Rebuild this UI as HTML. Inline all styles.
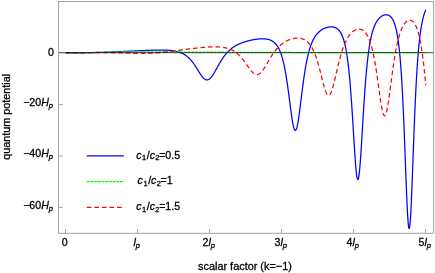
<!DOCTYPE html>
<html><head><meta charset="utf-8"><style>
html,body{margin:0;padding:0;background:#fff;overflow:hidden;}
#w{width:435px;height:273px;position:relative;will-change:transform;}
svg{display:block;}
text{font-family:"Liberation Sans",sans-serif;font-size:10.6px;fill:#000;stroke:#000;stroke-width:0.3px;}
.i{font-style:italic;}
.s{font-size:7.5px;font-style:italic;}
.n{font-size:7.5px;}
</style></head><body><div id="w">
<svg width="435" height="273" viewBox="0 0 435 273">
<g fill="none" stroke-linejoin="round" stroke-width="1.25">
<path d="M65.65 52.93 L66.37 52.93 L66.63 52.93 L66.88 52.93 L67.14 52.93 L67.40 52.93 L67.65 52.93 L67.91 52.93 L68.17 52.93 L68.43 52.93 L68.68 52.93 L68.94 52.92 L69.20 52.92 L69.45 52.92 L69.71 52.92 L69.97 52.92 L70.22 52.92 L70.48 52.92 L70.74 52.92 L70.99 52.92 L71.25 52.91 L71.51 52.91 L71.77 52.91 L72.02 52.91 L72.28 52.91 L72.54 52.91 L72.79 52.90 L73.05 52.90 L73.31 52.90 L73.56 52.90 L73.82 52.90 L74.08 52.89 L74.34 52.89 L74.59 52.89 L74.85 52.89 L75.11 52.89 L75.36 52.88 L75.62 52.88 L75.88 52.88 L76.13 52.88 L76.39 52.87 L76.65 52.87 L76.90 52.87 L77.16 52.86 L77.42 52.86 L77.68 52.86 L77.93 52.86 L78.19 52.85 L78.45 52.85 L78.70 52.85 L78.96 52.84 L79.22 52.84 L79.47 52.84 L79.73 52.83 L79.99 52.83 L80.24 52.83 L80.50 52.82 L80.76 52.82 L81.02 52.81 L81.27 52.81 L81.53 52.81 L81.79 52.80 L82.04 52.80 L82.30 52.79 L82.56 52.79 L82.81 52.79 L83.07 52.78 L83.33 52.78 L83.58 52.77 L83.84 52.77 L84.10 52.76 L84.36 52.76 L84.61 52.75 L84.87 52.75 L85.13 52.74 L85.38 52.74 L85.64 52.74 L85.90 52.73 L86.15 52.73 L86.41 52.72 L86.67 52.72 L86.92 52.71 L87.18 52.70 L87.44 52.70 L87.70 52.69 L87.95 52.69 L88.21 52.68 L88.47 52.68 L88.72 52.67 L88.98 52.67 L89.24 52.66 L89.49 52.66 L89.75 52.65 L90.01 52.64 L90.27 52.64 L90.52 52.63 L90.78 52.63 L91.04 52.62 L91.29 52.61 L91.55 52.61 L91.81 52.60 L92.06 52.59 L92.32 52.59 L92.58 52.58 L92.83 52.58 L93.09 52.57 L93.35 52.56 L93.61 52.56 L93.86 52.55 L94.12 52.54 L94.38 52.54 L94.63 52.53 L94.89 52.52 L95.15 52.52 L95.40 52.51 L95.66 52.50 L95.92 52.49 L96.17 52.49 L96.43 52.48 L96.69 52.47 L96.95 52.47 L97.20 52.46 L97.46 52.45 L97.72 52.44 L97.97 52.44 L98.23 52.43 L98.49 52.42 L98.74 52.41 L99.00 52.41 L99.26 52.40 L99.51 52.39 L99.77 52.38 L100.03 52.38 L100.29 52.37 L100.54 52.36 L100.80 52.35 L101.06 52.34 L101.31 52.34 L101.57 52.33 L101.83 52.32 L102.08 52.31 L102.34 52.30 L102.60 52.29 L102.85 52.29 L103.11 52.28 L103.37 52.27 L103.63 52.26 L103.88 52.25 L104.14 52.24 L104.40 52.23 L104.65 52.23 L104.91 52.22 L105.17 52.21 L105.42 52.20 L105.68 52.19 L105.94 52.18 L106.20 52.17 L106.45 52.16 L106.71 52.16 L106.97 52.15 L107.22 52.14 L107.48 52.13 L107.74 52.12 L107.99 52.11 L108.25 52.10 L108.51 52.09 L108.76 52.08 L109.02 52.07 L109.28 52.06 L109.54 52.05 L109.79 52.04 L110.05 52.03 L110.31 52.02 L110.56 52.01 L110.82 52.01 L111.08 52.00 L111.33 51.99 L111.59 51.98 L111.85 51.97 L112.10 51.96 L112.36 51.95 L112.62 51.94 L112.88 51.93 L113.13 51.92 L113.39 51.91 L113.65 51.90 L113.90 51.89 L114.16 51.88 L114.42 51.87 L114.67 51.86 L114.93 51.85 L115.19 51.83 L115.44 51.82 L115.70 51.81 L115.96 51.80 L116.22 51.79 L116.47 51.78 L116.73 51.77 L116.99 51.76 L117.24 51.75 L117.50 51.74 L117.76 51.73 L118.01 51.72 L118.27 51.71 L118.53 51.70 L118.78 51.69 L119.04 51.68 L119.30 51.66 L119.56 51.65 L119.81 51.64 L120.07 51.63 L120.33 51.62 L120.58 51.61 L120.84 51.60 L121.10 51.59 L121.35 51.58 L121.61 51.56 L121.87 51.55 L122.13 51.54 L122.38 51.53 L122.64 51.52 L122.90 51.51 L123.15 51.50 L123.41 51.49 L123.67 51.47 L123.92 51.46 L124.18 51.45 L124.44 51.44 L124.69 51.43 L124.95 51.42 L125.21 51.41 L125.47 51.39 L125.72 51.38 L125.98 51.37 L126.24 51.36 L126.49 51.35 L126.75 51.33 L127.01 51.32 L127.26 51.31 L127.52 51.30 L127.78 51.29 L128.03 51.28 L128.29 51.26 L128.55 51.25 L128.81 51.24 L129.06 51.23 L129.32 51.22 L129.58 51.20 L129.83 51.19 L130.09 51.18 L130.35 51.17 L130.60 51.16 L130.86 51.14 L131.12 51.13 L131.37 51.12 L131.63 51.11 L131.89 51.10 L132.15 51.08 L132.40 51.07 L132.66 51.06 L132.92 51.05 L133.17 51.04 L133.43 51.02 L133.69 51.01 L133.94 51.00 L134.20 50.99 L134.46 50.97 L134.71 50.96 L134.97 50.95 L135.23 50.94 L135.49 50.93 L135.74 50.91 L136.00 50.90 L136.26 50.89 L136.51 50.88 L136.77 50.86 L137.03 50.85 L137.28 50.84 L137.54 50.83 L137.80 50.82 L138.06 50.80 L138.31 50.79 L138.57 50.78 L138.83 50.77 L139.08 50.75 L139.34 50.74 L139.60 50.73 L139.85 50.72 L140.11 50.71 L140.37 50.69 L140.62 50.68 L140.88 50.67 L141.14 50.66 L141.40 50.65 L141.65 50.63 L141.91 50.62 L142.17 50.61 L142.42 50.60 L142.68 50.59 L142.94 50.58 L143.19 50.56 L143.45 50.55 L143.71 50.54 L143.96 50.53 L144.22 50.52 L144.48 50.51 L144.74 50.50 L144.99 50.48 L145.25 50.47 L145.51 50.46 L145.76 50.45 L146.02 50.44 L146.28 50.43 L146.53 50.42 L146.79 50.41 L147.05 50.40 L147.30 50.38 L147.56 50.37 L147.82 50.36 L148.08 50.35 L148.33 50.34 L148.59 50.33 L148.85 50.32 L149.10 50.31 L149.36 50.30 L149.62 50.29 L149.87 50.28 L150.13 50.27 L150.39 50.26 L150.64 50.25 L150.90 50.24 L151.16 50.23 L151.42 50.23 L151.67 50.22 L151.93 50.21 L152.19 50.20 L152.44 50.19 L152.70 50.18 L152.96 50.17 L153.21 50.17 L153.47 50.16 L153.73 50.15 L153.99 50.14 L154.24 50.14 L154.50 50.13 L154.76 50.12 L155.01 50.11 L155.27 50.11 L155.53 50.10 L155.78 50.10 L156.04 50.09 L156.30 50.08 L156.55 50.08 L156.81 50.07 L157.07 50.07 L157.33 50.06 L157.58 50.06 L157.84 50.06 L158.10 50.05 L158.35 50.05 L158.61 50.04 L158.87 50.04 L159.12 50.04 L159.38 50.04 L159.64 50.03 L159.89 50.03 L160.15 50.03 L160.41 50.03 L160.67 50.03 L160.92 50.03 L161.18 50.03 L161.44 50.03 L161.69 50.03 L161.95 50.03 L162.21 50.03 L162.46 50.04 L162.72 50.04 L162.98 50.04 L163.23 50.05 L163.49 50.05 L163.75 50.06 L164.01 50.06 L164.26 50.07 L164.52 50.07 L164.78 50.08 L165.03 50.09 L165.29 50.09 L165.55 50.10 L165.80 50.11 L166.06 50.12 L166.32 50.13 L166.57 50.15 L166.83 50.16 L167.09 50.17 L167.35 50.18 L167.60 50.20 L167.86 50.21 L168.12 50.23 L168.37 50.25 L168.63 50.26 L168.89 50.28 L169.14 50.30 L169.40 50.32 L169.66 50.34 L169.92 50.37 L170.17 50.39 L170.43 50.41 L170.69 50.44 L170.94 50.47 L171.20 50.49 L171.46 50.52 L171.71 50.55 L171.97 50.58 L172.23 50.62 L172.48 50.65 L172.74 50.69 L173.00 50.72 L173.26 50.76 L173.51 50.80 L173.77 50.84 L174.03 50.88 L174.28 50.93 L174.54 50.97 L174.80 51.02 L175.05 51.07 L175.31 51.12 L175.57 51.17 L175.82 51.23 L176.08 51.28 L176.34 51.34 L176.60 51.40 L176.85 51.46 L177.11 51.53 L177.37 51.60 L177.62 51.67 L177.88 51.74 L178.14 51.81 L178.39 51.89 L178.65 51.96 L178.91 52.05 L179.16 52.13 L179.42 52.22 L179.68 52.31 L179.94 52.40 L180.19 52.49 L180.45 52.59 L180.71 52.69 L180.96 52.80 L181.22 52.90 L181.48 53.01 L181.73 53.13 L181.99 53.25 L182.25 53.37 L182.50 53.49 L182.76 53.62 L183.02 53.75 L183.28 53.89 L183.53 54.03 L183.79 54.17 L184.05 54.32 L184.30 54.47 L184.56 54.63 L184.82 54.79 L185.07 54.96 L185.33 55.13 L185.59 55.30 L185.85 55.48 L186.10 55.67 L186.36 55.86 L186.62 56.06 L186.87 56.26 L187.13 56.46 L187.39 56.67 L187.64 56.89 L187.90 57.11 L188.16 57.34 L188.41 57.57 L188.67 57.81 L188.93 58.06 L189.19 58.31 L189.44 58.57 L189.70 58.83 L189.96 59.10 L190.21 59.38 L190.47 59.66 L190.73 59.94 L190.98 60.24 L191.24 60.54 L191.50 60.84 L191.75 61.16 L192.01 61.48 L192.27 61.80 L192.53 62.13 L192.78 62.47 L193.04 62.81 L193.30 63.16 L193.55 63.51 L193.81 63.87 L194.07 64.24 L194.32 64.61 L194.58 64.98 L194.84 65.36 L195.09 65.75 L195.35 66.14 L195.61 66.53 L195.87 66.93 L196.12 67.33 L196.38 67.73 L196.64 68.14 L196.89 68.55 L197.15 68.96 L197.41 69.37 L197.66 69.78 L197.92 70.19 L198.18 70.61 L198.43 71.02 L198.69 71.43 L198.95 71.84 L199.21 72.25 L199.46 72.65 L199.72 73.05 L199.98 73.45 L200.23 73.84 L200.49 74.22 L200.75 74.60 L201.00 74.97 L201.26 75.33 L201.52 75.69 L201.78 76.03 L202.03 76.37 L202.29 76.69 L202.55 77.00 L202.80 77.30 L203.06 77.58 L203.32 77.86 L203.57 78.11 L203.83 78.35 L204.09 78.58 L204.34 78.79 L204.60 78.98 L204.86 79.15 L205.12 79.31 L205.37 79.45 L205.63 79.56 L205.89 79.66 L206.14 79.74 L206.40 79.80 L206.66 79.84 L206.91 79.86 L207.17 79.85 L207.43 79.83 L207.68 79.79 L207.94 79.72 L208.20 79.64 L208.46 79.53 L208.71 79.41 L208.97 79.26 L209.23 79.10 L209.48 78.91 L209.74 78.71 L210.00 78.49 L210.25 78.25 L210.51 77.99 L210.77 77.72 L211.02 77.43 L211.28 77.13 L211.54 76.81 L211.80 76.48 L212.05 76.13 L212.31 75.77 L212.57 75.40 L212.82 75.01 L213.08 74.62 L213.34 74.22 L213.59 73.81 L213.85 73.39 L214.11 72.96 L214.36 72.52 L214.62 72.08 L214.88 71.64 L215.14 71.19 L215.39 70.73 L215.65 70.27 L215.91 69.81 L216.16 69.35 L216.42 68.88 L216.68 68.42 L216.93 67.95 L217.19 67.49 L217.45 67.02 L217.71 66.56 L217.96 66.09 L218.22 65.63 L218.48 65.17 L218.73 64.72 L218.99 64.27 L219.25 63.82 L219.50 63.37 L219.76 62.93 L220.02 62.49 L220.27 62.06 L220.53 61.64 L220.79 61.21 L221.05 60.79 L221.30 60.38 L221.56 59.98 L221.82 59.57 L222.07 59.18 L222.33 58.79 L222.59 58.40 L222.84 58.03 L223.10 57.65 L223.36 57.29 L223.61 56.93 L223.87 56.57 L224.13 56.22 L224.39 55.88 L224.64 55.54 L224.90 55.21 L225.16 54.89 L225.41 54.57 L225.67 54.25 L225.93 53.95 L226.18 53.64 L226.44 53.35 L226.70 53.06 L226.95 52.77 L227.21 52.49 L227.47 52.22 L227.73 51.95 L227.98 51.68 L228.24 51.42 L228.50 51.17 L228.75 50.92 L229.01 50.68 L229.27 50.44 L229.52 50.20 L229.78 49.97 L230.04 49.75 L230.29 49.52 L230.55 49.31 L230.81 49.09 L231.07 48.89 L231.32 48.68 L231.58 48.48 L231.84 48.28 L232.09 48.09 L232.35 47.90 L232.61 47.71 L232.86 47.53 L233.12 47.35 L233.38 47.18 L233.64 47.01 L233.89 46.84 L234.15 46.67 L234.41 46.51 L234.66 46.35 L234.92 46.19 L235.18 46.04 L235.43 45.89 L235.69 45.74 L235.95 45.59 L236.20 45.45 L236.46 45.31 L236.72 45.17 L236.98 45.04 L237.23 44.90 L237.49 44.77 L237.75 44.65 L238.00 44.52 L238.26 44.40 L238.52 44.27 L238.77 44.15 L239.03 44.04 L239.29 43.92 L239.54 43.81 L239.80 43.69 L240.06 43.58 L240.32 43.47 L240.57 43.37 L240.83 43.26 L241.09 43.16 L241.34 43.06 L241.60 42.96 L241.86 42.86 L242.11 42.76 L242.37 42.67 L242.63 42.57 L242.88 42.48 L243.14 42.39 L243.40 42.30 L243.66 42.21 L243.91 42.13 L244.17 42.04 L244.43 41.96 L244.68 41.87 L244.94 41.79 L245.20 41.71 L245.45 41.63 L245.71 41.56 L245.97 41.48 L246.22 41.40 L246.48 41.33 L246.74 41.26 L247.00 41.18 L247.25 41.11 L247.51 41.04 L247.77 40.97 L248.02 40.91 L248.28 40.84 L248.54 40.77 L248.79 40.71 L249.05 40.64 L249.31 40.58 L249.57 40.52 L249.82 40.46 L250.08 40.40 L250.34 40.34 L250.59 40.28 L250.85 40.23 L251.11 40.17 L251.36 40.12 L251.62 40.06 L251.88 40.01 L252.13 39.96 L252.39 39.91 L252.65 39.86 L252.91 39.81 L253.16 39.76 L253.42 39.71 L253.68 39.67 L253.93 39.62 L254.19 39.58 L254.45 39.54 L254.70 39.50 L254.96 39.45 L255.22 39.42 L255.47 39.38 L255.73 39.34 L255.99 39.30 L256.25 39.27 L256.50 39.23 L256.76 39.20 L257.02 39.17 L257.27 39.14 L257.53 39.11 L257.79 39.08 L258.04 39.05 L258.30 39.03 L258.56 39.00 L258.81 38.98 L259.07 38.96 L259.33 38.94 L259.59 38.92 L259.84 38.90 L260.10 38.88 L260.36 38.87 L260.61 38.86 L260.87 38.84 L261.13 38.83 L261.38 38.82 L261.64 38.82 L261.90 38.81 L262.15 38.81 L262.41 38.81 L262.67 38.81 L262.93 38.81 L263.18 38.82 L263.44 38.82 L263.70 38.83 L263.95 38.84 L264.21 38.86 L264.47 38.87 L264.72 38.89 L264.98 38.91 L265.24 38.93 L265.50 38.96 L265.75 38.99 L266.01 39.02 L266.27 39.05 L266.52 39.09 L266.78 39.13 L267.04 39.18 L267.29 39.23 L267.55 39.28 L267.81 39.33 L268.06 39.39 L268.32 39.45 L268.58 39.52 L268.84 39.59 L269.09 39.67 L269.35 39.75 L269.61 39.83 L269.86 39.92 L270.12 40.02 L270.38 40.12 L270.63 40.22 L270.89 40.34 L271.15 40.46 L271.40 40.58 L271.66 40.71 L271.92 40.85 L272.18 41.00 L272.43 41.15 L272.69 41.31 L272.95 41.48 L273.20 41.66 L273.46 41.84 L273.72 42.04 L273.97 42.24 L274.23 42.46 L274.49 42.68 L274.74 42.92 L275.00 43.17 L275.26 43.43 L275.52 43.70 L275.77 43.99 L276.03 44.29 L276.29 44.60 L276.54 44.93 L276.80 45.27 L277.06 45.63 L277.31 46.01 L277.57 46.40 L277.83 46.81 L278.08 47.24 L278.34 47.70 L278.60 48.17 L278.86 48.66 L279.11 49.18 L279.37 49.72 L279.63 50.28 L279.88 50.87 L280.14 51.49 L280.40 52.13 L280.65 52.80 L280.91 53.51 L281.17 54.24 L281.43 55.01 L281.68 55.80 L281.94 56.64 L282.20 57.51 L282.45 58.41 L282.71 59.36 L282.97 60.34 L283.22 61.36 L283.48 62.43 L283.74 63.54 L283.99 64.69 L284.25 65.88 L284.51 67.13 L284.77 68.41 L285.02 69.75 L285.28 71.13 L285.54 72.56 L285.79 74.03 L286.05 75.56 L286.31 77.13 L286.56 78.75 L286.82 80.41 L287.08 82.12 L287.33 83.87 L287.59 85.66 L287.85 87.49 L288.11 89.36 L288.36 91.26 L288.62 93.19 L288.88 95.14 L289.13 97.11 L289.39 99.09 L289.65 101.09 L289.90 103.08 L290.16 105.07 L290.42 107.05 L290.67 109.00 L290.93 110.93 L291.19 112.82 L291.45 114.66 L291.70 116.44 L291.96 118.16 L292.22 119.80 L292.47 121.35 L292.73 122.81 L292.99 124.16 L293.24 125.40 L293.50 126.52 L293.76 127.51 L294.01 128.36 L294.27 129.07 L294.53 129.63 L294.79 130.04 L295.04 130.29 L295.30 130.38 L295.56 130.31 L295.81 130.09 L296.07 129.70 L296.33 129.16 L296.58 128.47 L296.84 127.63 L297.10 126.65 L297.36 125.53 L297.61 124.29 L297.87 122.93 L298.13 121.45 L298.38 119.88 L298.64 118.21 L298.90 116.46 L299.15 114.63 L299.41 112.75 L299.67 110.80 L299.92 108.82 L300.18 106.80 L300.44 104.75 L300.70 102.68 L300.95 100.60 L301.21 98.51 L301.47 96.43 L301.72 94.36 L301.98 92.31 L302.24 90.27 L302.49 88.26 L302.75 86.28 L303.01 84.33 L303.26 82.42 L303.52 80.55 L303.78 78.72 L304.04 76.93 L304.29 75.18 L304.55 73.48 L304.81 71.83 L305.06 70.22 L305.32 68.66 L305.58 67.15 L305.83 65.68 L306.09 64.26 L306.35 62.89 L306.60 61.56 L306.86 60.28 L307.12 59.04 L307.38 57.85 L307.63 56.69 L307.89 55.58 L308.15 54.50 L308.40 53.47 L308.66 52.47 L308.92 51.51 L309.17 50.58 L309.43 49.69 L309.69 48.83 L309.94 48.00 L310.20 47.21 L310.46 46.44 L310.72 45.70 L310.97 44.99 L311.23 44.30 L311.49 43.64 L311.74 43.00 L312.00 42.39 L312.26 41.80 L312.51 41.23 L312.77 40.68 L313.03 40.15 L313.29 39.64 L313.54 39.15 L313.80 38.67 L314.06 38.21 L314.31 37.77 L314.57 37.35 L314.83 36.93 L315.08 36.54 L315.34 36.15 L315.60 35.78 L315.85 35.42 L316.11 35.08 L316.37 34.74 L316.63 34.42 L316.88 34.11 L317.14 33.81 L317.40 33.52 L317.65 33.23 L317.91 32.96 L318.17 32.70 L318.42 32.44 L318.68 32.19 L318.94 31.95 L319.19 31.72 L319.45 31.50 L319.71 31.28 L319.97 31.07 L320.22 30.87 L320.48 30.67 L320.74 30.48 L320.99 30.30 L321.25 30.12 L321.51 29.95 L321.76 29.78 L322.02 29.62 L322.28 29.46 L322.53 29.31 L322.79 29.17 L323.05 29.02 L323.31 28.89 L323.56 28.76 L323.82 28.63 L324.08 28.51 L324.33 28.39 L324.59 28.28 L324.85 28.17 L325.10 28.07 L325.36 27.97 L325.62 27.87 L325.87 27.78 L326.13 27.69 L326.39 27.61 L326.65 27.53 L326.90 27.46 L327.16 27.38 L327.42 27.32 L327.67 27.26 L327.93 27.20 L328.19 27.14 L328.44 27.09 L328.70 27.05 L328.96 27.01 L329.22 26.97 L329.47 26.94 L329.73 26.91 L329.99 26.89 L330.24 26.87 L330.50 26.86 L330.76 26.85 L331.01 26.84 L331.27 26.84 L331.53 26.85 L331.78 26.86 L332.04 26.88 L332.30 26.90 L332.56 26.93 L332.81 26.97 L333.07 27.01 L333.33 27.06 L333.58 27.11 L333.84 27.17 L334.10 27.24 L334.35 27.32 L334.61 27.40 L334.87 27.49 L335.12 27.59 L335.38 27.70 L335.64 27.82 L335.90 27.95 L336.15 28.08 L336.41 28.23 L336.67 28.39 L336.92 28.56 L337.18 28.74 L337.44 28.94 L337.69 29.14 L337.95 29.36 L338.21 29.60 L338.46 29.85 L338.72 30.12 L338.98 30.40 L339.24 30.70 L339.49 31.02 L339.75 31.36 L340.01 31.71 L340.26 32.09 L340.52 32.50 L340.78 32.92 L341.03 33.37 L341.29 33.85 L341.55 34.36 L341.80 34.89 L342.06 35.46 L342.32 36.06 L342.58 36.69 L342.83 37.37 L343.09 38.07 L343.35 38.83 L343.60 39.62 L343.86 40.46 L344.12 41.34 L344.37 42.28 L344.63 43.27 L344.89 44.32 L345.15 45.43 L345.40 46.60 L345.66 47.83 L345.92 49.14 L346.17 50.51 L346.43 51.97 L346.69 53.50 L346.94 55.12 L347.20 56.83 L347.46 58.63 L347.71 60.53 L347.97 62.52 L348.23 64.63 L348.49 66.84 L348.74 69.16 L349.00 71.59 L349.26 74.15 L349.51 76.83 L349.77 79.63 L350.03 82.55 L350.28 85.60 L350.54 88.78 L350.80 92.09 L351.05 95.51 L351.31 99.06 L351.57 102.72 L351.83 106.49 L352.08 110.36 L352.34 114.32 L352.60 118.36 L352.85 122.47 L353.11 126.62 L353.37 130.80 L353.62 134.98 L353.88 139.15 L354.14 143.27 L354.39 147.33 L354.65 151.28 L354.91 155.10 L355.17 158.75 L355.42 162.21 L355.68 165.44 L355.94 168.40 L356.19 171.07 L356.45 173.42 L356.71 175.42 L356.96 177.05 L357.22 178.29 L357.48 179.12 L357.73 179.54 L357.99 179.53 L358.25 179.10 L358.51 178.25 L358.76 176.99 L359.02 175.34 L359.28 173.31 L359.53 170.92 L359.79 168.21 L360.05 165.20 L360.30 161.92 L360.56 158.40 L360.82 154.67 L361.08 150.78 L361.33 146.74 L361.59 142.60 L361.85 138.38 L362.10 134.11 L362.36 129.81 L362.62 125.52 L362.87 121.24 L363.13 117.01 L363.39 112.84 L363.64 108.74 L363.90 104.73 L364.16 100.82 L364.42 97.01 L364.67 93.32 L364.93 89.75 L365.19 86.29 L365.44 82.96 L365.70 79.76 L365.96 76.68 L366.21 73.72 L366.47 70.89 L366.73 68.18 L366.98 65.59 L367.24 63.12 L367.50 60.75 L367.76 58.50 L368.01 56.35 L368.27 54.30 L368.53 52.34 L368.78 50.48 L369.04 48.71 L369.30 47.03 L369.55 45.42 L369.81 43.89 L370.07 42.44 L370.32 41.06 L370.58 39.74 L370.84 38.48 L371.10 37.29 L371.35 36.16 L371.61 35.07 L371.87 34.04 L372.12 33.06 L372.38 32.13 L372.64 31.23 L372.89 30.39 L373.15 29.58 L373.41 28.80 L373.66 28.07 L373.92 27.36 L374.18 26.69 L374.44 26.05 L374.69 25.44 L374.95 24.85 L375.21 24.30 L375.46 23.76 L375.72 23.25 L375.98 22.77 L376.23 22.30 L376.49 21.86 L376.75 21.43 L377.01 21.02 L377.26 20.63 L377.52 20.26 L377.78 19.91 L378.03 19.57 L378.29 19.24 L378.55 18.93 L378.80 18.64 L379.06 18.35 L379.32 18.08 L379.57 17.83 L379.83 17.58 L380.09 17.35 L380.35 17.13 L380.60 16.92 L380.86 16.72 L381.12 16.53 L381.37 16.35 L381.63 16.18 L381.89 16.02 L382.14 15.87 L382.40 15.73 L382.66 15.60 L382.91 15.48 L383.17 15.37 L383.43 15.27 L383.69 15.17 L383.94 15.09 L384.20 15.02 L384.46 14.95 L384.71 14.90 L384.97 14.85 L385.23 14.81 L385.48 14.79 L385.74 14.77 L386.00 14.76 L386.25 14.77 L386.51 14.78 L386.77 14.80 L387.03 14.84 L387.28 14.89 L387.54 14.94 L387.80 15.01 L388.05 15.10 L388.31 15.19 L388.57 15.30 L388.82 15.42 L389.08 15.56 L389.34 15.71 L389.59 15.88 L389.85 16.07 L390.11 16.27 L390.37 16.49 L390.62 16.73 L390.88 16.99 L391.14 17.27 L391.39 17.57 L391.65 17.90 L391.91 18.25 L392.16 18.62 L392.42 19.03 L392.68 19.46 L392.94 19.92 L393.19 20.42 L393.45 20.95 L393.71 21.52 L393.96 22.12 L394.22 22.77 L394.48 23.46 L394.73 24.20 L394.99 24.99 L395.25 25.83 L395.50 26.73 L395.76 27.69 L396.02 28.71 L396.28 29.80 L396.53 30.96 L396.79 32.20 L397.05 33.52 L397.30 34.93 L397.56 36.44 L397.82 38.04 L398.07 39.75 L398.33 41.57 L398.59 43.51 L398.84 45.58 L399.10 47.79 L399.36 50.14 L399.62 52.64 L399.87 55.30 L400.13 58.13 L400.39 61.14 L400.64 64.34 L400.90 67.74 L401.16 71.34 L401.41 75.15 L401.67 79.19 L401.93 83.45 L402.18 87.95 L402.44 92.69 L402.70 97.67 L402.96 102.90 L403.21 108.36 L403.47 114.05 L403.73 119.98 L403.98 126.11 L404.24 132.44 L404.50 138.94 L404.75 145.58 L405.01 152.34 L405.27 159.16 L405.52 166.00 L405.78 172.82 L406.04 179.54 L406.30 186.11 L406.55 192.46 L406.81 198.52 L407.07 204.21 L407.32 209.46 L407.58 214.19 L407.84 218.34 L408.09 221.85 L408.35 224.66 L408.61 226.73 L408.87 228.01 L409.12 228.49 L409.38 228.16 L409.64 227.02 L409.89 225.09 L410.15 222.40 L410.41 218.99 L410.66 214.92 L410.92 210.25 L411.18 205.04 L411.43 199.37 L411.69 193.30 L411.95 186.91 L412.21 180.28 L412.46 173.47 L412.72 166.54 L412.98 159.57 L413.23 152.60 L413.49 145.69 L413.75 138.87 L414.00 132.18 L414.26 125.65 L414.52 119.30 L414.77 113.17 L415.03 107.25 L415.29 101.56 L415.55 96.11 L415.80 90.90 L416.06 85.94 L416.32 81.21 L416.57 76.71 L416.83 72.45 L417.09 68.40 L417.34 64.58 L417.60 60.96 L417.86 57.54 L418.11 54.31 L418.37 51.27 L418.63 48.39 L418.89 45.68 L419.14 43.13 L419.40 40.72 L419.66 38.44 L419.91 36.30 L420.17 34.28 L420.43 32.38 L420.68 30.58 L420.94 28.89 L421.20 27.30 L421.45 25.79 L421.71 24.37 L421.97 23.02 L422.23 21.76 L422.48 20.56 L422.74 19.43 L423.00 18.36 L423.25 17.35 L423.51 16.39 L423.77 15.49 L424.02 14.63 L424.28 13.82 L424.54 13.06 L424.80 12.33 L425.05 11.64 L425.31 10.99 L425.57 10.38 L425.82 9.80" stroke="#0000ff"/>
<path d="M65.65 52.80 L66.37 52.80 L68.18 52.80 L69.98 52.79 L71.79 52.78 L73.59 52.77 L75.40 52.75 L77.20 52.74 L79.01 52.71 L80.81 52.69 L82.62 52.67 L84.42 52.64 L86.23 52.61 L88.04 52.58 L89.84 52.54 L91.65 52.51 L93.45 52.47 L95.26 52.44 L97.06 52.40 L98.87 52.37 L100.67 52.33 L102.48 52.30 L104.28 52.26 L106.09 52.23 L107.89 52.19 L109.70 52.16 L111.51 52.13 L113.31 52.10 L115.12 52.08 L116.92 52.05 L118.73 52.02 L120.53 52.00 L122.34 51.98 L124.14 51.96 L125.95 51.94 L127.75 51.93 L129.56 51.92 L131.37 51.90 L133.17 51.89 L134.98 51.88 L136.78 51.88 L138.59 51.87 L140.39 51.87 L142.20 51.86 L144.00 51.86 L145.81 51.86 L147.61 51.86 L149.42 51.86 L151.23 51.86 L153.03 51.87 L154.84 51.87 L156.64 51.88 L158.45 51.88 L160.25 51.89 L162.06 51.90 L163.86 51.91 L165.67 51.91 L167.47 51.92 L169.28 51.93 L171.08 51.94 L172.89 51.95 L174.70 51.96 L176.50 51.97 L178.31 51.98 L180.11 51.99 L181.92 52.00 L183.72 52.01 L185.53 52.02 L187.33 52.04 L189.14 52.05 L190.94 52.06 L192.75 52.07 L194.56 52.08 L196.36 52.09 L198.17 52.10 L199.97 52.11 L201.78 52.12 L203.58 52.13 L205.39 52.14 L207.19 52.15 L209.00 52.16 L210.80 52.17 L212.61 52.18 L214.42 52.19 L216.22 52.20 L218.03 52.21 L219.83 52.22 L221.64 52.23 L223.44 52.24 L225.25 52.25 L227.05 52.26 L228.86 52.27 L230.66 52.28 L232.47 52.29 L234.27 52.29 L236.08 52.30 L237.89 52.31 L239.69 52.32 L241.50 52.33 L243.30 52.33 L245.11 52.34 L246.91 52.35 L248.72 52.35 L250.52 52.36 L252.33 52.37 L254.13 52.38 L255.94 52.38 L257.75 52.39 L259.55 52.40 L261.36 52.40 L263.16 52.41 L264.97 52.41 L266.77 52.42 L268.58 52.43 L270.38 52.43 L272.19 52.44 L273.99 52.44 L275.80 52.45 L277.60 52.45 L279.41 52.46 L281.22 52.46 L283.02 52.47 L284.83 52.47 L286.63 52.48 L288.44 52.48 L290.24 52.49 L292.05 52.49 L293.85 52.50 L295.66 52.50 L297.46 52.50 L299.27 52.51 L301.08 52.51 L302.88 52.52 L304.69 52.52 L306.49 52.52 L308.30 52.53 L310.10 52.53 L311.91 52.54 L313.71 52.54 L315.52 52.54 L317.32 52.55 L319.13 52.55 L320.94 52.55 L322.74 52.56 L324.55 52.56 L326.35 52.56 L328.16 52.56 L329.96 52.57 L331.77 52.57 L333.57 52.57 L335.38 52.58 L337.18 52.58 L338.99 52.58 L340.79 52.58 L342.60 52.59 L344.41 52.59 L346.21 52.59 L348.02 52.60 L349.82 52.60 L351.63 52.60 L353.43 52.60 L355.24 52.60 L357.04 52.61 L358.85 52.61 L360.65 52.61 L362.46 52.61 L364.27 52.62 L366.07 52.62 L367.88 52.62 L369.68 52.62 L371.49 52.62 L373.29 52.63 L375.10 52.63 L376.90 52.63 L378.71 52.63 L380.51 52.63 L382.32 52.64 L384.13 52.64 L385.93 52.64 L387.74 52.64 L389.54 52.64 L391.35 52.64 L393.15 52.65 L394.96 52.65 L396.76 52.65 L398.57 52.65 L400.37 52.65 L402.18 52.65 L403.98 52.66 L405.79 52.66 L407.60 52.66 L409.40 52.66 L411.21 52.66 L413.01 52.66 L414.82 52.66 L416.62 52.67 L418.43 52.67 L420.23 52.67 L422.04 52.67 L423.84 52.67 L425.65 52.67" stroke="#00ff00" stroke-dasharray="2.95 0.75"/>
<path d="M65.65 52.93 L66.37 52.93 L66.63 52.93 L66.88 52.93 L67.14 52.93 L67.40 52.93 L67.65 52.93 L67.91 52.93 L68.17 52.93 L68.43 52.93 L68.68 52.93 L68.94 52.92 L69.20 52.92 L69.45 52.92 L69.71 52.92 L69.97 52.92 L70.22 52.92 L70.48 52.92 L70.74 52.92 L70.99 52.92 L71.25 52.91 L71.51 52.91 L71.77 52.91 L72.02 52.91 L72.28 52.91 L72.54 52.91 L72.79 52.91 L73.05 52.90 L73.31 52.90 L73.56 52.90 L73.82 52.90 L74.08 52.90 L74.33 52.89 L74.59 52.89 L74.85 52.89 L75.11 52.89 L75.36 52.89 L75.62 52.88 L75.88 52.88 L76.13 52.88 L76.39 52.88 L76.65 52.87 L76.90 52.87 L77.16 52.87 L77.42 52.87 L77.67 52.86 L77.93 52.86 L78.19 52.86 L78.45 52.85 L78.70 52.85 L78.96 52.85 L79.22 52.85 L79.47 52.84 L79.73 52.84 L79.99 52.84 L80.24 52.83 L80.50 52.83 L80.76 52.83 L81.01 52.83 L81.27 52.82 L81.53 52.82 L81.78 52.82 L82.04 52.81 L82.30 52.81 L82.56 52.81 L82.81 52.80 L83.07 52.80 L83.33 52.80 L83.58 52.79 L83.84 52.79 L84.10 52.79 L84.35 52.78 L84.61 52.78 L84.87 52.78 L85.12 52.77 L85.38 52.77 L85.64 52.77 L85.90 52.76 L86.15 52.76 L86.41 52.76 L86.67 52.76 L86.92 52.75 L87.18 52.75 L87.44 52.75 L87.69 52.74 L87.95 52.74 L88.21 52.74 L88.46 52.73 L88.72 52.73 L88.98 52.73 L89.24 52.72 L89.49 52.72 L89.75 52.72 L90.01 52.71 L90.26 52.71 L90.52 52.71 L90.78 52.71 L91.03 52.70 L91.29 52.70 L91.55 52.70 L91.80 52.69 L92.06 52.69 L92.32 52.69 L92.58 52.69 L92.83 52.68 L93.09 52.68 L93.35 52.68 L93.60 52.68 L93.86 52.67 L94.12 52.67 L94.37 52.67 L94.63 52.67 L94.89 52.67 L95.14 52.66 L95.40 52.66 L95.66 52.66 L95.92 52.66 L96.17 52.66 L96.43 52.65 L96.69 52.65 L96.94 52.65 L97.20 52.65 L97.46 52.65 L97.71 52.65 L97.97 52.65 L98.23 52.64 L98.48 52.64 L98.74 52.64 L99.00 52.64 L99.26 52.64 L99.51 52.64 L99.77 52.64 L100.03 52.64 L100.28 52.64 L100.54 52.64 L100.80 52.64 L101.05 52.64 L101.31 52.64 L101.57 52.64 L101.82 52.64 L102.08 52.64 L102.34 52.64 L102.60 52.64 L102.85 52.64 L103.11 52.64 L103.37 52.64 L103.62 52.64 L103.88 52.64 L104.14 52.64 L104.39 52.64 L104.65 52.65 L104.91 52.65 L105.16 52.65 L105.42 52.65 L105.68 52.65 L105.93 52.65 L106.19 52.66 L106.45 52.66 L106.71 52.66 L106.96 52.66 L107.22 52.66 L107.48 52.67 L107.73 52.67 L107.99 52.67 L108.25 52.67 L108.50 52.68 L108.76 52.68 L109.02 52.68 L109.27 52.69 L109.53 52.69 L109.79 52.69 L110.05 52.70 L110.30 52.70 L110.56 52.71 L110.82 52.71 L111.07 52.71 L111.33 52.72 L111.59 52.72 L111.84 52.73 L112.10 52.73 L112.36 52.74 L112.61 52.74 L112.87 52.74 L113.13 52.75 L113.39 52.75 L113.64 52.76 L113.90 52.77 L114.16 52.77 L114.41 52.78 L114.67 52.78 L114.93 52.79 L115.18 52.79 L115.44 52.80 L115.70 52.80 L115.95 52.81 L116.21 52.82 L116.47 52.82 L116.73 52.83 L116.98 52.84 L117.24 52.84 L117.50 52.85 L117.75 52.86 L118.01 52.86 L118.27 52.87 L118.52 52.88 L118.78 52.88 L119.04 52.89 L119.29 52.90 L119.55 52.90 L119.81 52.91 L120.07 52.92 L120.32 52.93 L120.58 52.93 L120.84 52.94 L121.09 52.95 L121.35 52.96 L121.61 52.96 L121.86 52.97 L122.12 52.98 L122.38 52.99 L122.63 53.00 L122.89 53.00 L123.15 53.01 L123.41 53.02 L123.66 53.03 L123.92 53.04 L124.18 53.04 L124.43 53.05 L124.69 53.06 L124.95 53.07 L125.20 53.07 L125.46 53.08 L125.72 53.09 L125.97 53.10 L126.23 53.11 L126.49 53.11 L126.75 53.12 L127.00 53.13 L127.26 53.14 L127.52 53.15 L127.77 53.15 L128.03 53.16 L128.29 53.17 L128.54 53.18 L128.80 53.18 L129.06 53.19 L129.31 53.20 L129.57 53.21 L129.83 53.21 L130.08 53.22 L130.34 53.23 L130.60 53.24 L130.86 53.24 L131.11 53.25 L131.37 53.26 L131.63 53.26 L131.88 53.27 L132.14 53.28 L132.40 53.28 L132.65 53.29 L132.91 53.29 L133.17 53.30 L133.42 53.31 L133.68 53.31 L133.94 53.32 L134.20 53.32 L134.45 53.33 L134.71 53.33 L134.97 53.34 L135.22 53.34 L135.48 53.35 L135.74 53.35 L135.99 53.36 L136.25 53.36 L136.51 53.36 L136.76 53.37 L137.02 53.37 L137.28 53.37 L137.54 53.38 L137.79 53.38 L138.05 53.38 L138.31 53.38 L138.56 53.39 L138.82 53.39 L139.08 53.39 L139.33 53.39 L139.59 53.39 L139.85 53.39 L140.10 53.39 L140.36 53.40 L140.62 53.40 L140.88 53.40 L141.13 53.39 L141.39 53.39 L141.65 53.39 L141.90 53.39 L142.16 53.39 L142.42 53.39 L142.67 53.39 L142.93 53.38 L143.19 53.38 L143.44 53.38 L143.70 53.38 L143.96 53.37 L144.22 53.37 L144.47 53.36 L144.73 53.36 L144.99 53.36 L145.24 53.35 L145.50 53.35 L145.76 53.34 L146.01 53.33 L146.27 53.33 L146.53 53.32 L146.78 53.31 L147.04 53.31 L147.30 53.30 L147.56 53.29 L147.81 53.28 L148.07 53.27 L148.33 53.27 L148.58 53.26 L148.84 53.25 L149.10 53.24 L149.35 53.23 L149.61 53.22 L149.87 53.21 L150.12 53.19 L150.38 53.18 L150.64 53.17 L150.90 53.16 L151.15 53.15 L151.41 53.13 L151.67 53.12 L151.92 53.11 L152.18 53.09 L152.44 53.08 L152.69 53.06 L152.95 53.05 L153.21 53.03 L153.46 53.02 L153.72 53.00 L153.98 52.99 L154.23 52.97 L154.49 52.95 L154.75 52.94 L155.01 52.92 L155.26 52.90 L155.52 52.88 L155.78 52.86 L156.03 52.85 L156.29 52.83 L156.55 52.81 L156.80 52.79 L157.06 52.77 L157.32 52.75 L157.57 52.73 L157.83 52.71 L158.09 52.69 L158.35 52.66 L158.60 52.64 L158.86 52.62 L159.12 52.60 L159.37 52.58 L159.63 52.55 L159.89 52.53 L160.14 52.51 L160.40 52.48 L160.66 52.46 L160.91 52.43 L161.17 52.41 L161.43 52.39 L161.69 52.36 L161.94 52.34 L162.20 52.31 L162.46 52.28 L162.71 52.26 L162.97 52.23 L163.23 52.21 L163.48 52.18 L163.74 52.15 L164.00 52.12 L164.25 52.10 L164.51 52.07 L164.77 52.04 L165.03 52.01 L165.28 51.99 L165.54 51.96 L165.80 51.93 L166.05 51.90 L166.31 51.87 L166.57 51.84 L166.82 51.81 L167.08 51.78 L167.34 51.75 L167.59 51.72 L167.85 51.69 L168.11 51.66 L168.37 51.63 L168.62 51.60 L168.88 51.57 L169.14 51.54 L169.39 51.51 L169.65 51.48 L169.91 51.45 L170.16 51.42 L170.42 51.39 L170.68 51.35 L170.93 51.32 L171.19 51.29 L171.45 51.26 L171.71 51.23 L171.96 51.19 L172.22 51.16 L172.48 51.13 L172.73 51.10 L172.99 51.06 L173.25 51.03 L173.50 51.00 L173.76 50.97 L174.02 50.93 L174.27 50.90 L174.53 50.87 L174.79 50.83 L175.05 50.80 L175.30 50.77 L175.56 50.73 L175.82 50.70 L176.07 50.67 L176.33 50.63 L176.59 50.60 L176.84 50.57 L177.10 50.53 L177.36 50.50 L177.61 50.47 L177.87 50.43 L178.13 50.40 L178.38 50.36 L178.64 50.33 L178.90 50.30 L179.16 50.26 L179.41 50.23 L179.67 50.19 L179.93 50.16 L180.18 50.13 L180.44 50.09 L180.70 50.06 L180.95 50.03 L181.21 49.99 L181.47 49.96 L181.72 49.92 L181.98 49.89 L182.24 49.86 L182.50 49.82 L182.75 49.79 L183.01 49.75 L183.27 49.72 L183.52 49.69 L183.78 49.65 L184.04 49.62 L184.29 49.59 L184.55 49.55 L184.81 49.52 L185.06 49.49 L185.32 49.45 L185.58 49.42 L185.84 49.39 L186.09 49.35 L186.35 49.32 L186.61 49.29 L186.86 49.25 L187.12 49.22 L187.38 49.19 L187.63 49.15 L187.89 49.12 L188.15 49.09 L188.40 49.06 L188.66 49.02 L188.92 48.99 L189.18 48.96 L189.43 48.93 L189.69 48.89 L189.95 48.86 L190.20 48.83 L190.46 48.80 L190.72 48.77 L190.97 48.73 L191.23 48.70 L191.49 48.67 L191.74 48.64 L192.00 48.61 L192.26 48.58 L192.52 48.55 L192.77 48.52 L193.03 48.49 L193.29 48.46 L193.54 48.42 L193.80 48.39 L194.06 48.36 L194.31 48.33 L194.57 48.30 L194.83 48.27 L195.08 48.25 L195.34 48.22 L195.60 48.19 L195.86 48.16 L196.11 48.13 L196.37 48.10 L196.63 48.07 L196.88 48.04 L197.14 48.02 L197.40 47.99 L197.65 47.96 L197.91 47.93 L198.17 47.91 L198.42 47.88 L198.68 47.85 L198.94 47.82 L199.20 47.80 L199.45 47.77 L199.71 47.75 L199.97 47.72 L200.22 47.69 L200.48 47.67 L200.74 47.64 L200.99 47.62 L201.25 47.59 L201.51 47.57 L201.76 47.55 L202.02 47.52 L202.28 47.50 L202.53 47.48 L202.79 47.45 L203.05 47.43 L203.31 47.41 L203.56 47.39 L203.82 47.36 L204.08 47.34 L204.33 47.32 L204.59 47.30 L204.85 47.28 L205.10 47.26 L205.36 47.24 L205.62 47.22 L205.87 47.20 L206.13 47.18 L206.39 47.17 L206.65 47.15 L206.90 47.13 L207.16 47.11 L207.42 47.10 L207.67 47.08 L207.93 47.07 L208.19 47.05 L208.44 47.04 L208.70 47.02 L208.96 47.01 L209.21 46.99 L209.47 46.98 L209.73 46.97 L209.99 46.96 L210.24 46.94 L210.50 46.93 L210.76 46.92 L211.01 46.91 L211.27 46.90 L211.53 46.90 L211.78 46.89 L212.04 46.88 L212.30 46.87 L212.55 46.87 L212.81 46.86 L213.07 46.86 L213.33 46.85 L213.58 46.85 L213.84 46.85 L214.10 46.84 L214.35 46.84 L214.61 46.84 L214.87 46.84 L215.12 46.84 L215.38 46.85 L215.64 46.85 L215.89 46.85 L216.15 46.86 L216.41 46.86 L216.67 46.87 L216.92 46.88 L217.18 46.88 L217.44 46.89 L217.69 46.90 L217.95 46.91 L218.21 46.93 L218.46 46.94 L218.72 46.95 L218.98 46.97 L219.23 46.98 L219.49 47.00 L219.75 47.02 L220.01 47.04 L220.26 47.06 L220.52 47.09 L220.78 47.11 L221.03 47.13 L221.29 47.16 L221.55 47.19 L221.80 47.22 L222.06 47.25 L222.32 47.28 L222.57 47.32 L222.83 47.35 L223.09 47.39 L223.35 47.43 L223.60 47.47 L223.86 47.51 L224.12 47.55 L224.37 47.60 L224.63 47.65 L224.89 47.70 L225.14 47.75 L225.40 47.80 L225.66 47.86 L225.91 47.92 L226.17 47.98 L226.43 48.04 L226.68 48.10 L226.94 48.17 L227.20 48.24 L227.46 48.31 L227.71 48.39 L227.97 48.46 L228.23 48.54 L228.48 48.62 L228.74 48.71 L229.00 48.79 L229.25 48.88 L229.51 48.98 L229.77 49.07 L230.02 49.17 L230.28 49.27 L230.54 49.38 L230.80 49.49 L231.05 49.60 L231.31 49.71 L231.57 49.83 L231.82 49.95 L232.08 50.08 L232.34 50.21 L232.59 50.34 L232.85 50.48 L233.11 50.62 L233.36 50.76 L233.62 50.91 L233.88 51.06 L234.14 51.22 L234.39 51.38 L234.65 51.55 L234.91 51.72 L235.16 51.89 L235.42 52.07 L235.68 52.25 L235.93 52.44 L236.19 52.63 L236.45 52.83 L236.70 53.03 L236.96 53.24 L237.22 53.45 L237.48 53.67 L237.73 53.89 L237.99 54.11 L238.25 54.35 L238.50 54.58 L238.76 54.83 L239.02 55.07 L239.27 55.33 L239.53 55.59 L239.79 55.85 L240.04 56.12 L240.30 56.39 L240.56 56.67 L240.82 56.95 L241.07 57.24 L241.33 57.54 L241.59 57.84 L241.84 58.14 L242.10 58.45 L242.36 58.77 L242.61 59.09 L242.87 59.41 L243.13 59.74 L243.38 60.08 L243.64 60.41 L243.90 60.75 L244.16 61.10 L244.41 61.45 L244.67 61.80 L244.93 62.16 L245.18 62.52 L245.44 62.88 L245.70 63.24 L245.95 63.61 L246.21 63.98 L246.47 64.35 L246.72 64.72 L246.98 65.09 L247.24 65.46 L247.50 65.83 L247.75 66.20 L248.01 66.57 L248.27 66.94 L248.52 67.31 L248.78 67.67 L249.04 68.03 L249.29 68.39 L249.55 68.74 L249.81 69.09 L250.06 69.43 L250.32 69.77 L250.58 70.10 L250.83 70.42 L251.09 70.74 L251.35 71.04 L251.61 71.34 L251.86 71.63 L252.12 71.91 L252.38 72.18 L252.63 72.44 L252.89 72.68 L253.15 72.92 L253.40 73.14 L253.66 73.34 L253.92 73.53 L254.17 73.71 L254.43 73.88 L254.69 74.03 L254.95 74.16 L255.20 74.27 L255.46 74.37 L255.72 74.46 L255.97 74.52 L256.23 74.57 L256.49 74.61 L256.74 74.62 L257.00 74.62 L257.26 74.60 L257.51 74.56 L257.77 74.50 L258.03 74.43 L258.29 74.34 L258.54 74.23 L258.80 74.10 L259.06 73.96 L259.31 73.80 L259.57 73.62 L259.83 73.43 L260.08 73.22 L260.34 73.00 L260.60 72.76 L260.85 72.51 L261.11 72.24 L261.37 71.96 L261.63 71.67 L261.88 71.36 L262.14 71.04 L262.40 70.71 L262.65 70.37 L262.91 70.02 L263.17 69.66 L263.42 69.29 L263.68 68.91 L263.94 68.53 L264.19 68.13 L264.45 67.73 L264.71 67.33 L264.97 66.92 L265.22 66.50 L265.48 66.08 L265.74 65.66 L265.99 65.23 L266.25 64.80 L266.51 64.36 L266.76 63.93 L267.02 63.49 L267.28 63.06 L267.53 62.62 L267.79 62.18 L268.05 61.74 L268.31 61.31 L268.56 60.87 L268.82 60.44 L269.08 60.01 L269.33 59.58 L269.59 59.15 L269.85 58.73 L270.10 58.31 L270.36 57.89 L270.62 57.48 L270.87 57.06 L271.13 56.66 L271.39 56.26 L271.65 55.86 L271.90 55.46 L272.16 55.07 L272.42 54.69 L272.67 54.31 L272.93 53.93 L273.19 53.56 L273.44 53.20 L273.70 52.84 L273.96 52.48 L274.21 52.13 L274.47 51.79 L274.73 51.45 L274.98 51.11 L275.24 50.78 L275.50 50.46 L275.76 50.14 L276.01 49.83 L276.27 49.52 L276.53 49.22 L276.78 48.92 L277.04 48.63 L277.30 48.34 L277.55 48.06 L277.81 47.78 L278.07 47.51 L278.32 47.24 L278.58 46.98 L278.84 46.72 L279.10 46.47 L279.35 46.22 L279.61 45.98 L279.87 45.74 L280.12 45.50 L280.38 45.27 L280.64 45.05 L280.89 44.83 L281.15 44.61 L281.41 44.40 L281.66 44.19 L281.92 43.99 L282.18 43.79 L282.44 43.60 L282.69 43.40 L282.95 43.22 L283.21 43.03 L283.46 42.86 L283.72 42.68 L283.98 42.51 L284.23 42.34 L284.49 42.18 L284.75 42.02 L285.00 41.86 L285.26 41.71 L285.52 41.56 L285.78 41.41 L286.03 41.27 L286.29 41.13 L286.55 40.99 L286.80 40.86 L287.06 40.73 L287.32 40.60 L287.57 40.48 L287.83 40.36 L288.09 40.24 L288.34 40.13 L288.60 40.02 L288.86 39.91 L289.12 39.81 L289.37 39.71 L289.63 39.61 L289.89 39.51 L290.14 39.42 L290.40 39.33 L290.66 39.25 L290.91 39.16 L291.17 39.08 L291.43 39.01 L291.68 38.93 L291.94 38.86 L292.20 38.79 L292.46 38.73 L292.71 38.67 L292.97 38.61 L293.23 38.55 L293.48 38.50 L293.74 38.45 L294.00 38.40 L294.25 38.36 L294.51 38.32 L294.77 38.28 L295.02 38.25 L295.28 38.22 L295.54 38.19 L295.80 38.17 L296.05 38.15 L296.31 38.13 L296.57 38.11 L296.82 38.10 L297.08 38.10 L297.34 38.09 L297.59 38.09 L297.85 38.10 L298.11 38.10 L298.36 38.12 L298.62 38.13 L298.88 38.15 L299.13 38.17 L299.39 38.20 L299.65 38.23 L299.91 38.27 L300.16 38.31 L300.42 38.36 L300.68 38.41 L300.93 38.46 L301.19 38.52 L301.45 38.58 L301.70 38.65 L301.96 38.73 L302.22 38.81 L302.47 38.89 L302.73 38.99 L302.99 39.08 L303.25 39.19 L303.50 39.29 L303.76 39.41 L304.02 39.53 L304.27 39.66 L304.53 39.80 L304.79 39.94 L305.04 40.09 L305.30 40.24 L305.56 40.41 L305.81 40.58 L306.07 40.76 L306.33 40.95 L306.59 41.15 L306.84 41.35 L307.10 41.57 L307.36 41.79 L307.61 42.03 L307.87 42.27 L308.13 42.53 L308.38 42.79 L308.64 43.07 L308.90 43.36 L309.15 43.65 L309.41 43.96 L309.67 44.29 L309.93 44.62 L310.18 44.97 L310.44 45.33 L310.70 45.70 L310.95 46.09 L311.21 46.49 L311.47 46.91 L311.72 47.34 L311.98 47.79 L312.24 48.25 L312.49 48.73 L312.75 49.22 L313.01 49.73 L313.27 50.26 L313.52 50.81 L313.78 51.37 L314.04 51.95 L314.29 52.55 L314.55 53.17 L314.81 53.81 L315.06 54.46 L315.32 55.14 L315.58 55.83 L315.83 56.54 L316.09 57.28 L316.35 58.03 L316.61 58.80 L316.86 59.59 L317.12 60.40 L317.38 61.23 L317.63 62.08 L317.89 62.94 L318.15 63.83 L318.40 64.73 L318.66 65.64 L318.92 66.58 L319.17 67.53 L319.43 68.49 L319.69 69.46 L319.95 70.45 L320.20 71.45 L320.46 72.45 L320.72 73.47 L320.97 74.49 L321.23 75.51 L321.49 76.54 L321.74 77.56 L322.00 78.59 L322.26 79.60 L322.51 80.62 L322.77 81.62 L323.03 82.60 L323.28 83.58 L323.54 84.53 L323.80 85.47 L324.06 86.37 L324.31 87.26 L324.57 88.11 L324.83 88.93 L325.08 89.71 L325.34 90.45 L325.60 91.15 L325.85 91.80 L326.11 92.41 L326.37 92.97 L326.62 93.47 L326.88 93.92 L327.14 94.31 L327.40 94.64 L327.65 94.91 L327.91 95.12 L328.17 95.27 L328.42 95.35 L328.68 95.36 L328.94 95.32 L329.19 95.20 L329.45 95.02 L329.71 94.78 L329.96 94.48 L330.22 94.11 L330.48 93.68 L330.74 93.20 L330.99 92.65 L331.25 92.05 L331.51 91.40 L331.76 90.70 L332.02 89.95 L332.28 89.15 L332.53 88.32 L332.79 87.44 L333.05 86.53 L333.30 85.59 L333.56 84.61 L333.82 83.61 L334.08 82.58 L334.33 81.54 L334.59 80.47 L334.85 79.39 L335.10 78.30 L335.36 77.20 L335.62 76.09 L335.87 74.97 L336.13 73.86 L336.39 72.74 L336.64 71.62 L336.90 70.51 L337.16 69.41 L337.42 68.31 L337.67 67.22 L337.93 66.14 L338.19 65.07 L338.44 64.02 L338.70 62.98 L338.96 61.95 L339.21 60.94 L339.47 59.95 L339.73 58.97 L339.98 58.01 L340.24 57.07 L340.50 56.15 L340.76 55.24 L341.01 54.36 L341.27 53.49 L341.53 52.65 L341.78 51.82 L342.04 51.01 L342.30 50.23 L342.55 49.46 L342.81 48.71 L343.07 47.98 L343.32 47.26 L343.58 46.57 L343.84 45.90 L344.10 45.24 L344.35 44.60 L344.61 43.98 L344.87 43.38 L345.12 42.79 L345.38 42.22 L345.64 41.67 L345.89 41.13 L346.15 40.61 L346.41 40.10 L346.66 39.61 L346.92 39.13 L347.18 38.67 L347.43 38.22 L347.69 37.79 L347.95 37.36 L348.21 36.96 L348.46 36.56 L348.72 36.18 L348.98 35.81 L349.23 35.45 L349.49 35.11 L349.75 34.77 L350.00 34.45 L350.26 34.14 L350.52 33.84 L350.77 33.55 L351.03 33.27 L351.29 33.00 L351.55 32.74 L351.80 32.49 L352.06 32.25 L352.32 32.03 L352.57 31.81 L352.83 31.60 L353.09 31.39 L353.34 31.20 L353.60 31.02 L353.86 30.84 L354.11 30.68 L354.37 30.52 L354.63 30.37 L354.89 30.23 L355.14 30.10 L355.40 29.98 L355.66 29.87 L355.91 29.76 L356.17 29.66 L356.43 29.58 L356.68 29.50 L356.94 29.42 L357.20 29.36 L357.45 29.31 L357.71 29.26 L357.97 29.22 L358.23 29.19 L358.48 29.17 L358.74 29.16 L359.00 29.16 L359.25 29.17 L359.51 29.19 L359.77 29.21 L360.02 29.25 L360.28 29.29 L360.54 29.35 L360.79 29.41 L361.05 29.49 L361.31 29.58 L361.57 29.67 L361.82 29.78 L362.08 29.90 L362.34 30.03 L362.59 30.18 L362.85 30.33 L363.11 30.50 L363.36 30.68 L363.62 30.88 L363.88 31.09 L364.13 31.31 L364.39 31.55 L364.65 31.80 L364.91 32.07 L365.16 32.35 L365.42 32.65 L365.68 32.97 L365.93 33.31 L366.19 33.66 L366.45 34.04 L366.70 34.43 L366.96 34.84 L367.22 35.28 L367.47 35.73 L367.73 36.21 L367.99 36.71 L368.25 37.24 L368.50 37.79 L368.76 38.37 L369.02 38.97 L369.27 39.60 L369.53 40.26 L369.79 40.95 L370.04 41.67 L370.30 42.42 L370.56 43.20 L370.81 44.01 L371.07 44.86 L371.33 45.74 L371.58 46.66 L371.84 47.62 L372.10 48.61 L372.36 49.65 L372.61 50.72 L372.87 51.83 L373.13 52.98 L373.38 54.17 L373.64 55.41 L373.90 56.68 L374.15 58.00 L374.41 59.36 L374.67 60.76 L374.92 62.21 L375.18 63.70 L375.44 65.22 L375.70 66.79 L375.95 68.40 L376.21 70.04 L376.47 71.72 L376.72 73.44 L376.98 75.18 L377.24 76.96 L377.49 78.75 L377.75 80.58 L378.01 82.41 L378.26 84.27 L378.52 86.13 L378.78 87.99 L379.04 89.85 L379.29 91.71 L379.55 93.55 L379.81 95.37 L380.06 97.15 L380.32 98.91 L380.58 100.62 L380.83 102.27 L381.09 103.87 L381.35 105.40 L381.60 106.85 L381.86 108.22 L382.12 109.50 L382.38 110.68 L382.63 111.75 L382.89 112.71 L383.15 113.55 L383.40 114.26 L383.66 114.85 L383.92 115.30 L384.17 115.61 L384.43 115.78 L384.69 115.82 L384.94 115.71 L385.20 115.46 L385.46 115.07 L385.72 114.55 L385.97 113.88 L386.23 113.09 L386.49 112.17 L386.74 111.14 L387.00 109.98 L387.26 108.72 L387.51 107.36 L387.77 105.90 L388.03 104.36 L388.28 102.74 L388.54 101.05 L388.80 99.30 L389.06 97.49 L389.31 95.64 L389.57 93.75 L389.83 91.83 L390.08 89.88 L390.34 87.92 L390.60 85.95 L390.85 83.97 L391.11 82.00 L391.37 80.03 L391.62 78.08 L391.88 76.14 L392.14 74.22 L392.40 72.33 L392.65 70.46 L392.91 68.62 L393.17 66.82 L393.42 65.05 L393.68 63.32 L393.94 61.63 L394.19 59.97 L394.45 58.36 L394.71 56.79 L394.96 55.26 L395.22 53.77 L395.48 52.33 L395.73 50.92 L395.99 49.56 L396.25 48.24 L396.51 46.96 L396.76 45.73 L397.02 44.53 L397.28 43.37 L397.53 42.25 L397.79 41.17 L398.05 40.13 L398.30 39.12 L398.56 38.15 L398.82 37.22 L399.07 36.32 L399.33 35.45 L399.59 34.61 L399.85 33.80 L400.10 33.03 L400.36 32.29 L400.62 31.57 L400.87 30.88 L401.13 30.22 L401.39 29.59 L401.64 28.98 L401.90 28.39 L402.16 27.84 L402.41 27.30 L402.67 26.79 L402.93 26.30 L403.19 25.83 L403.44 25.39 L403.70 24.96 L403.96 24.56 L404.21 24.17 L404.47 23.81 L404.73 23.46 L404.98 23.13 L405.24 22.82 L405.50 22.53 L405.75 22.26 L406.01 22.01 L406.27 21.77 L406.53 21.55 L406.78 21.34 L407.04 21.16 L407.30 20.99 L407.55 20.83 L407.81 20.69 L408.07 20.57 L408.32 20.47 L408.58 20.38 L408.84 20.31 L409.09 20.25 L409.35 20.22 L409.61 20.19 L409.87 20.19 L410.12 20.20 L410.38 20.23 L410.64 20.28 L410.89 20.35 L411.15 20.43 L411.41 20.53 L411.66 20.66 L411.92 20.80 L412.18 20.96 L412.43 21.14 L412.69 21.34 L412.95 21.56 L413.21 21.81 L413.46 22.08 L413.72 22.37 L413.98 22.69 L414.23 23.03 L414.49 23.40 L414.75 23.79 L415.00 24.21 L415.26 24.66 L415.52 25.14 L415.77 25.66 L416.03 26.20 L416.29 26.77 L416.55 27.39 L416.80 28.03 L417.06 28.72 L417.32 29.44 L417.57 30.20 L417.83 31.01 L418.09 31.86 L418.34 32.75 L418.60 33.69 L418.86 34.68 L419.11 35.72 L419.37 36.81 L419.63 37.95 L419.88 39.15 L420.14 40.41 L420.40 41.73 L420.66 43.11 L420.91 44.55 L421.17 46.06 L421.43 47.63 L421.68 49.28 L421.94 50.99 L422.20 52.77 L422.45 54.63 L422.71 56.56 L422.97 58.56 L423.22 60.63 L423.48 62.78 L423.74 65.01 L424.00 67.30 L424.25 69.67 L424.51 72.11 L424.77 74.61 L425.02 77.17 L425.28 79.80 L425.54 82.48 L425.79 85.21" stroke="#ff0000" stroke-dasharray="4.55 2.963"/>
</g>
<line x1="58.5" y1="52.62" x2="433.5" y2="52.62" stroke="#000" stroke-opacity="0.6" stroke-width="1.15"/>
<g stroke="#a4a4a4" stroke-width="1" fill="none">
<rect x="58.5" y="1.5" width="375" height="231.8"/>
<line x1="65.50" y1="233.3" x2="65.50" y2="228.9"/>
<line x1="137.50" y1="233.3" x2="137.50" y2="228.9"/>
<line x1="209.50" y1="233.3" x2="209.50" y2="228.9"/>
<line x1="281.50" y1="233.3" x2="281.50" y2="228.9"/>
<line x1="353.50" y1="233.3" x2="353.50" y2="228.9"/>
<line x1="425.50" y1="233.3" x2="425.50" y2="228.9"/>
<line x1="58.5" y1="104.46" x2="62.8" y2="104.46"/>
<line x1="58.5" y1="155.93" x2="62.8" y2="155.93"/>
<line x1="58.5" y1="207.46" x2="62.8" y2="207.46"/>
</g>
<text x="53.9" y="56.2" text-anchor="end">0</text>
<text x="53.0" y="105.9" text-anchor="end">−20<tspan class="i">H</tspan><tspan class="s" dy="2.0">p</tspan></text>
<text x="53.0" y="157.4" text-anchor="end">−40<tspan class="i">H</tspan><tspan class="s" dy="2.0">p</tspan></text>
<text x="53.0" y="208.9" text-anchor="end">−60<tspan class="i">H</tspan><tspan class="s" dy="2.0">p</tspan></text>
<text x="64.70" y="245.8" text-anchor="middle">0</text>
<text x="136.70" y="245.8" text-anchor="middle"><tspan class="i">l</tspan><tspan class="s" dy="2.0">p</tspan></text>
<text x="208.70" y="245.8" text-anchor="middle">2<tspan class="i">l</tspan><tspan class="s" dy="2.0">p</tspan></text>
<text x="280.70" y="245.8" text-anchor="middle">3<tspan class="i">l</tspan><tspan class="s" dy="2.0">p</tspan></text>
<text x="352.70" y="245.8" text-anchor="middle">4<tspan class="i">l</tspan><tspan class="s" dy="2.0">p</tspan></text>
<text x="424.70" y="245.8" text-anchor="middle">5<tspan class="i">l</tspan><tspan class="s" dy="2.0">p</tspan></text>
<text x="244.95" y="269.7" text-anchor="middle" style="font-size:10.9px">scalar factor (k=−1)</text>
<text transform="translate(9.9,116.8) rotate(-90)" text-anchor="middle" style="font-size:10.8px">quantum potential</text>
<line x1="86.7" y1="155.85" x2="123.8" y2="155.85" stroke="#0000ff" stroke-width="1.25"/>
<text x="136.2" y="158.8"><tspan class="i">c</tspan><tspan class="n" dx="0.6" dy="1.6">1</tspan><tspan dx="0.5" dy="-1.6">/</tspan><tspan class="i">c</tspan><tspan class="n" dx="0.3" dy="1.6">2</tspan><tspan dx="-0.3" dy="-1.6">=0.5</tspan></text>
<line x1="86.7" y1="181.5" x2="123.8" y2="181.5" stroke="#00ff00" stroke-width="1.25" stroke-dasharray="2.95 0.75"/>
<text x="137.6" y="184.3"><tspan class="i">c</tspan><tspan class="n" dx="0.6" dy="1.6">1</tspan><tspan dx="0.5" dy="-1.6">/</tspan><tspan class="i">c</tspan><tspan class="n" dx="0.3" dy="1.6">2</tspan><tspan dx="-0.3" dy="-1.6">=1</tspan></text>
<line x1="86.7" y1="207.4" x2="123.8" y2="207.4" stroke="#ff0000" stroke-width="1.25" stroke-dasharray="4.6 3"/>
<text x="136.2" y="210.3"><tspan class="i">c</tspan><tspan class="n" dx="0.6" dy="1.6">1</tspan><tspan dx="0.5" dy="-1.6">/</tspan><tspan class="i">c</tspan><tspan class="n" dx="0.3" dy="1.6">2</tspan><tspan dx="-0.3" dy="-1.6">=1.5</tspan></text>
</svg></div></body></html>
